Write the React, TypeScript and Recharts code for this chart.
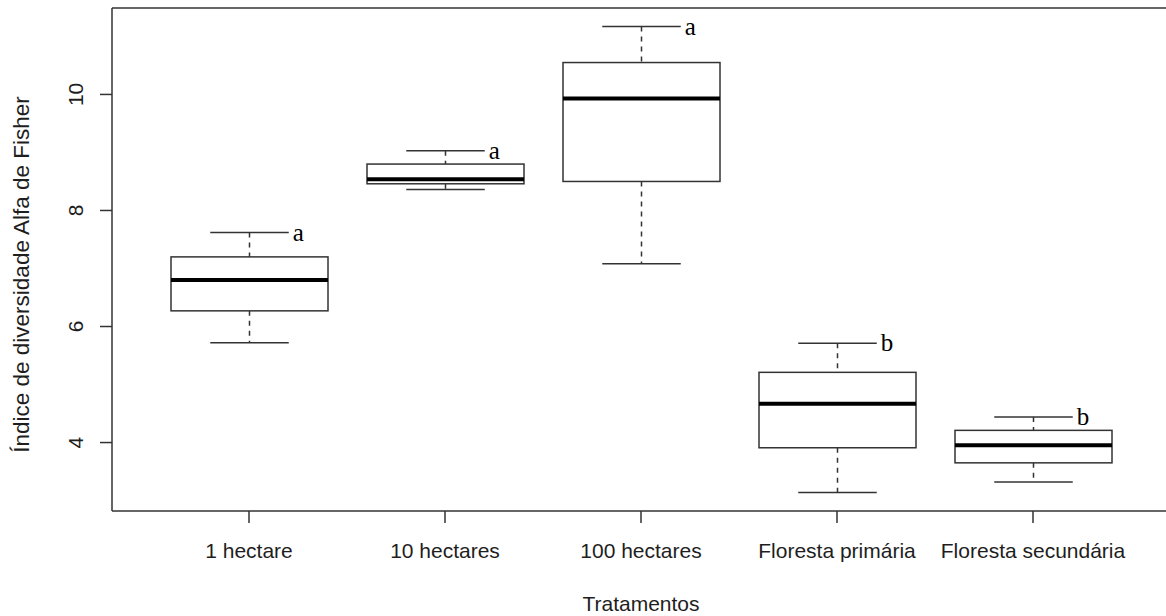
import React from 'react';
import { ComposedChart, Bar, XAxis, YAxis, ReferenceLine } from 'recharts';

// boxplot values
const categories = ['1 hectare', '10 hectares', '100 hectares', 'Floresta primária', 'Floresta secundária'];
const whiskerLow = [5.72, 8.36, 7.08, 3.14, 3.32];
const lowerQuartile = [6.27, 8.46, 8.5, 3.91, 3.65];
const medians = [6.8, 8.54, 9.93, 4.67, 3.955];
const upperQuartile = [7.2, 8.8, 10.55, 5.21, 4.21];
const whiskerHigh = [7.62, 9.03, 11.17, 5.71, 4.44];
const groupLetters = ['a', 'a', 'a', 'b', 'b'];
const yTicks = [4, 6, 8, 10];
const yDomain = [2.82, 11.49];

const data = categories.map((name, i) => ({
    name,
    min: whiskerLow[i],
    q1: lowerQuartile[i],
    median: medians[i],
    q3: upperQuartile[i],
    max: whiskerHigh[i],
    letter: groupLetters[i]
}));

const LINE = '#333';
const TEXT = '#1e1e1e';
const SANS = '"Liberation Sans", Arial, sans-serif';
const SERIF = '"Liberation Serif", "Times New Roman", serif';

const BoxShape = (props: any) => {
    const { x, y, width, height, payload } = props;
    const top = Math.min(y, y + height);
    const bottom = Math.max(y, y + height);
    const { min, q1, median, q3, max, letter } = payload;
    const py = (v: number) => top + ((max - v) / (max - min)) * (bottom - top);
    const cx = x + width / 2;
    const capHalf = width / 4;

    return (
        <g>
            {/* whiskers */}
            <line x1={cx} x2={cx} y1={py(max)} y2={py(q3)} stroke={LINE} strokeWidth={1.5} strokeDasharray="5 5" />
            <line x1={cx} x2={cx} y1={py(q1)} y2={py(min)} stroke={LINE} strokeWidth={1.5} strokeDasharray="5 5" />
            {/* caps */}
            <line x1={cx - capHalf} x2={cx + capHalf} y1={py(max)} y2={py(max)} stroke={LINE} strokeWidth={1.5} />
            <line x1={cx - capHalf} x2={cx + capHalf} y1={py(min)} y2={py(min)} stroke={LINE} strokeWidth={1.5} />
            {/* box */}
            <rect x={x} y={py(q3)} width={width} height={py(q1) - py(q3)} fill="#fff" stroke={LINE} strokeWidth={1.5} />
            <line x1={x} x2={x + width} y1={py(median)} y2={py(median)} stroke="#000" strokeWidth={4} />
            {/* group letter */}
            <text x={cx + capHalf + 4} y={py(max) + 8} fontFamily={SERIF} fontSize={25} fill="#000">
                {letter}
            </text>
        </g>
    );
};

const XTick = (props: any) => {
    const { x, y, payload } = props;
    return (
        <text x={x} y={y + 33} textAnchor="middle" fontFamily={SANS} fontSize={21} fill={TEXT}>
            {payload.value}
        </text>
    );
};

const YTick = (props: any) => {
    const { x, y, payload } = props;
    return (
        <text
            transform={`translate(${x},${y}) rotate(-90)`}
            textAnchor="middle"
            dominantBaseline="central"
            fontFamily={SANS}
            fontSize={21}
            fill={TEXT}
        >
            {payload.value}
        </text>
    );
};

const XTitle = (props: any) => {
    const vb = props.viewBox;
    return (
        <text x={vb.x + vb.width / 2} y={vb.y + vb.height + 40} textAnchor="middle" fontFamily={SANS} fontSize={21} fill={TEXT}>
            Tratamentos
        </text>
    );
};

const YTitle = (props: any) => {
    const vb = props.viewBox;
    const cy = vb.y + vb.height / 2 + 15;
    return (
        <text
            transform={`translate(${vb.x + 21},${cy}) rotate(-90)`}
            textAnchor="middle"
            dominantBaseline="central"
            fontFamily={SANS}
            fontSize={22.5}
            fill={TEXT}
        >
            Índice de diversidade Alfa de Fisher
        </text>
    );
};

export default function App() {
    return (
        <div style={{ position: 'absolute', left: 0, top: 0, width: 1166, height: 616, overflow: 'hidden', background: '#fff' }}>
            <ComposedChart width={1180} height={616} data={data} margin={{ top: 8, right: 10, bottom: 45, left: 0 }}>
                <XAxis
                    dataKey="name"
                    height={60}
                    padding={{ left: 39, right: 39 }}
                    tickSize={12}
                    tickLine={{ stroke: LINE, strokeWidth: 1.5 }}
                    axisLine={{ stroke: LINE, strokeWidth: 1.5 }}
                    tick={<XTick />}
                    interval={0}
                    label={{ content: <XTitle /> }}
                />
                <YAxis
                    type="number"
                    width={112}
                    domain={yDomain}
                    ticks={yTicks}
                    allowDataOverflow
                    tickSize={12}
                    tickMargin={25}
                    tickLine={{ stroke: LINE, strokeWidth: 1.5 }}
                    axisLine={{ stroke: LINE, strokeWidth: 1.5 }}
                    tick={<YTick />}
                    label={{ content: <YTitle /> }}
                />
                {/* top frame line */}
                <ReferenceLine y={yDomain[1]} stroke={LINE} strokeWidth={1.5} />
                <Bar
                    dataKey={(d: any) => [d.min, d.max]}
                    barSize={157}
                    shape={<BoxShape />}
                    isAnimationActive={false}
                />
            </ComposedChart>
        </div>
    );
}
